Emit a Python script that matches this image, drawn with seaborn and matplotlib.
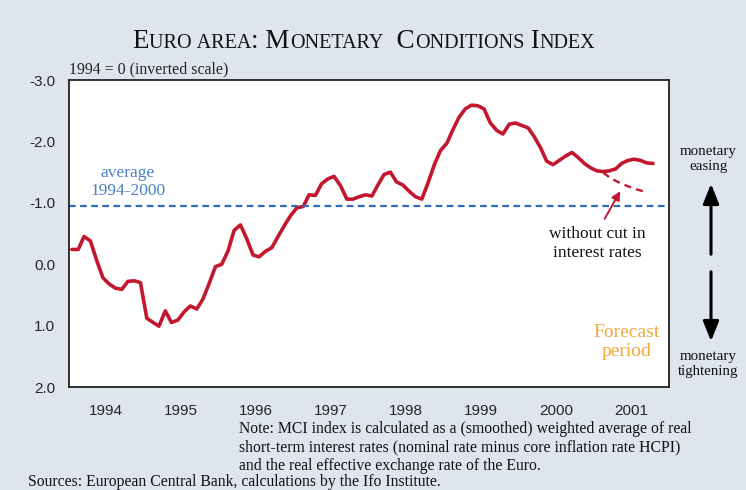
import pandas as pd
import matplotlib
matplotlib.use("Agg")
import matplotlib.pyplot as plt
import matplotlib.dates as mdates
import seaborn as sns


# ===============================
# DATA (monthly)
# ===============================

mci = [
    # 1994
    -0.24, -0.24, -0.45, -0.38, -0.07, 0.22, 0.32, 0.39, 0.41, 0.28, 0.27, 0.30,
    # 1995
    0.88, 0.95, 1.01, 0.76, 0.95, 0.91, 0.78, 0.68, 0.73, 0.57, 0.31, 0.04,
    # 1996
    0.00, -0.22, -0.55, -0.64, -0.42, -0.15, -0.12, -0.21, -0.27, -0.45, -0.63, -0.79,
    # 1997
    -0.92, -0.94, -1.13, -1.12, -1.31, -1.39, -1.43, -1.28, -1.06, -1.06, -1.10, -1.13,
    # 1998
    -1.11, -1.30, -1.46, -1.50, -1.34, -1.29, -1.19, -1.10, -1.06, -1.32, -1.62, -1.85,
    # 1999
    -1.97, -2.20, -2.39, -2.53, -2.59, -2.58, -2.53, -2.30, -2.18, -2.12, -2.28, -2.30,
    # 2000
    -2.26, -2.22, -2.08, -1.90, -1.68, -1.62, -1.69, -1.76, -1.82, -1.74, -1.64, -1.57,
    # 2001 (Jan - Oct)
    -1.52, -1.51, -1.52, -1.55, -1.64, -1.69, -1.71, -1.69, -1.65, -1.64,
]

# scenario without the interest rate cut, Feb 2001 - Sep 2001
no_cut = [-1.49, -1.42, -1.36, -1.31, -1.27, -1.23, -1.20, -1.17]

average_94_00 = -0.95

y_ticks = [-3, -2, -1, 0, 1, 2]
y_labels = ["-3.0", "-2.0", "-1.0", "0.0", "1.0", "2.0"]

note_lines = [
    "Note: MCI index is calculated as a (smoothed) weighted average of real",
    "short-term interest rates (nominal rate minus core inflation rate HCPI)",
    "and the real effective exchange rate of the Euro.",
]
source_text = "Sources: European Central Bank, calculations by the Ifo Institute."

RED = "#c3172f"
BLUE = "#2f6cb8"
BLUE_TXT = "#4a80c4"
ORANGE = "#f1a73a"
BG = "#dfe5ec"

months = pd.date_range("1994-01-01", periods=len(mci), freq="MS") + pd.Timedelta(days=14)
df = pd.DataFrame({"date": months, "mci": mci})
months_nc = pd.date_range("2001-02-01", periods=len(no_cut), freq="MS") + pd.Timedelta(days=14)
df_nc = pd.DataFrame({"date": months_nc, "mci": no_cut})


# ===============================
# FIGURE
# ===============================

sns.set_theme(style="white")
plt.rcParams["font.family"] = ["Liberation Serif", "DejaVu Serif"]
plt.rcParams["axes.unicode_minus"] = False
SANS = ["Liberation Sans", "DejaVu Sans"]

fig = plt.figure(figsize=(7.46, 4.90), dpi=100, facecolor=BG)
ax = fig.add_axes([69 / 746, 1 - 387 / 490, 600 / 746, 307 / 490])
ax.set_facecolor("white")

sns.lineplot(data=df, x="date", y="mci", ax=ax, color=RED, linewidth=2.6)
sns.lineplot(data=df_nc, x="date", y="mci", ax=ax, color=RED, linewidth=1.7,
             linestyle=(0, (3, 2.2)))
ax.axhline(average_94_00, color=BLUE, linewidth=1.6, linestyle=(0, (3, 2)))

ax.set_xlim(pd.Timestamp("1994-01-01"), pd.Timestamp("2002-01-01"))
ax.set_ylim(2, -3)
ax.set_xlabel("")
ax.set_ylabel("")

ax.set_yticks(y_ticks)
ax.set_yticklabels(y_labels, family=SANS, fontsize=11)

ax.xaxis.set_major_locator(mdates.YearLocator(base=1, month=1, day=1))
ax.xaxis.set_major_formatter(plt.NullFormatter())
ax.xaxis.set_minor_locator(mdates.MonthLocator(bymonth=7))
ax.xaxis.set_minor_formatter(mdates.DateFormatter("%Y"))
ax.tick_params(axis="x", which="major", direction="in", length=5, width=1, color="#333333")
ax.tick_params(axis="x", which="minor", length=0, pad=12)
for lbl in ax.get_xticklabels(minor=True):
    lbl.set_family(SANS)
    lbl.set_fontsize(11)
ax.tick_params(axis="y", direction="in", length=5, width=1, color="#333333", pad=10)

for s in ax.spines.values():
    s.set_visible(True)
    s.set_color("#222222")
    s.set_linewidth(1.3)

# ===============================
# ANNOTATIONS
# ===============================

ax.text(0.0, 1.008, "1994 = 0 (inverted scale)", transform=ax.transAxes,
        ha="left", va="bottom", fontsize=11.4, color="#222222")

ax.text(0.098, 0.668, "average\n1994-2000", transform=ax.transAxes,
        ha="center", va="center", fontsize=12.5, color=BLUE_TXT, linespacing=1.1)

ax.text(0.88, 0.468, "without cut in\ninterest rates", transform=ax.transAxes,
        ha="center", va="center", fontsize=12.5, color="#111111", linespacing=1.22)
ax.annotate("", xy=(pd.Timestamp("2001-05-15"), -1.23), xytext=(pd.Timestamp("2001-02-15"), -0.70),
            arrowprops=dict(arrowstyle="-|>", color=RED, lw=1.4, mutation_scale=13))

ax.text(0.93, 0.147, "Forecast\nperiod", transform=ax.transAxes,
        ha="center", va="center", fontsize=14, color=ORANGE, linespacing=1.2)

# right margin: easing / tightening
fig.text(708 / 746, 1 - 159 / 490, "monetary\neasing", ha="center", va="center",
         fontsize=10.8, color="#111111", linespacing=1.2)
fig.text(708 / 746, 1 - 364 / 490, "monetary\ntightening", ha="center", va="center",
         fontsize=10.8, color="#111111", linespacing=1.2)
for y0, y1 in [(257, 181), (269, 344)]:
    fig.add_artist(matplotlib.patches.FancyArrowPatch(
        (711 / 746, 1 - y0 / 490), (711 / 746, 1 - y1 / 490), transform=fig.transFigure,
        arrowstyle="-|>,head_length=0.6,head_width=0.24", mutation_scale=20,
        color="black", lw=2.2))

# note and sources
for i, line in enumerate(note_lines):
    fig.text(239 / 746, 1 - (429 + 18.3 * i) / 490, line, ha="left", va="center",
             fontsize=11.3, color="#111111")
fig.text(28 / 746, 1 - 481.5 / 490, source_text, ha="left", va="center",
         fontsize=11.3, color="#111111")

# title in small caps, built piece by piece
title_parts = [("E", True), ("URO AREA", False), (": M", True), ("ONETARY", False),
               ("  C", True), ("ONDITIONS", False), (" I", True), ("NDEX", False)]
renderer = fig.canvas.get_renderer()
pieces = []
cursor = 0.0
for txt, big in title_parts:
    t = fig.text(0, 1 - 48 / 490, txt.replace(" ", "\u00a0"), fontsize=19.5 if big else 14.5,
                 ha="left", va="baseline", color="#111111")
    w = t.get_window_extent(renderer).width / fig.bbox.width
    pieces.append((t, cursor))
    cursor += w
start = 364 / 746 - cursor / 2
for t, off in pieces:
    t.set_x(start + off)

fig.savefig("out.png", dpi=100, facecolor=BG)
